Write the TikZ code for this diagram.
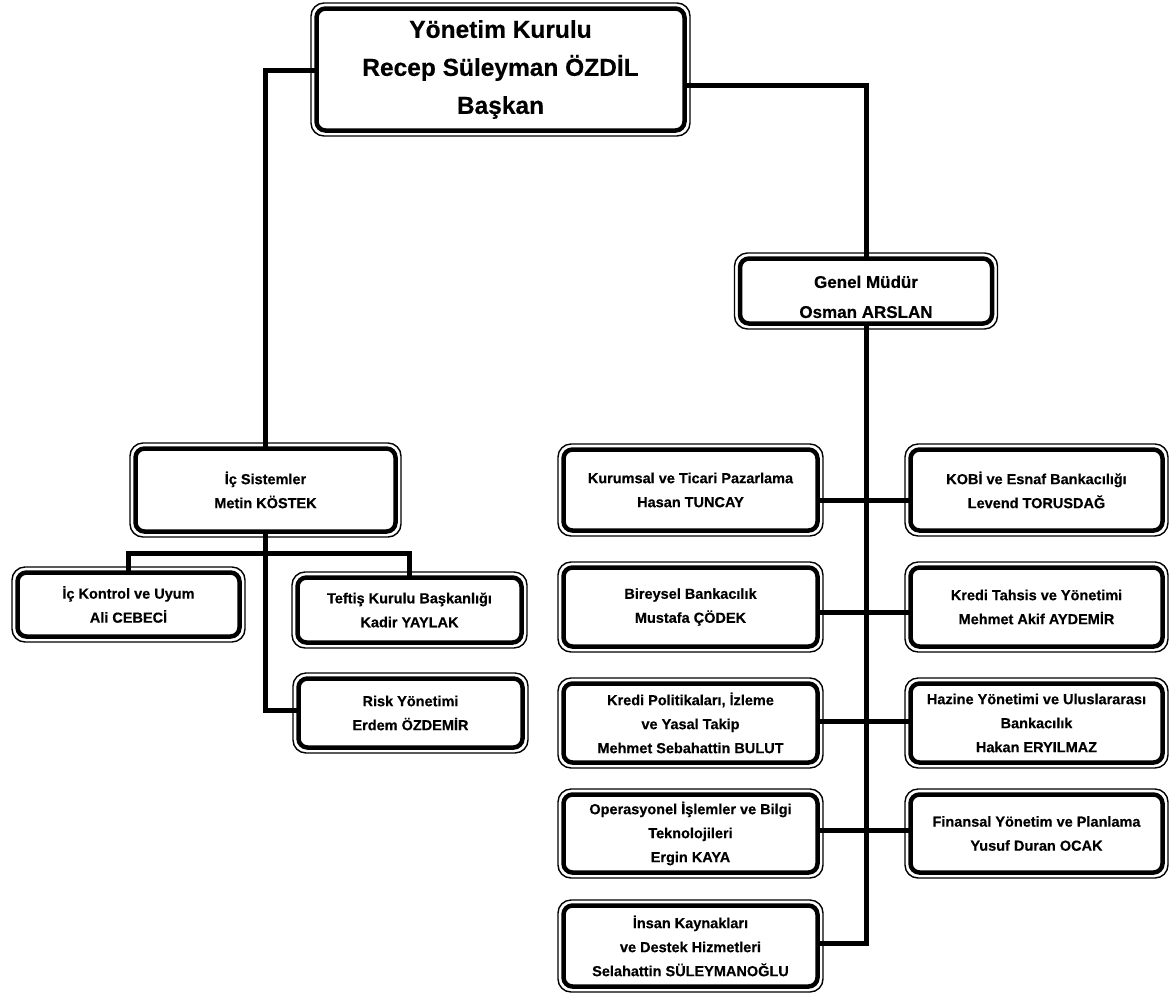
\documentclass[tikz,border=0pt]{standalone}
\usepackage{fontspec}
\setmainfont{Liberation Sans}[BoldFeatures={FakeBold=0.4}]
\usetikzlibrary{calc}
\pgfdeclarelayer{paper}
\pgfdeclarelayer{background}
\pgfsetlayers{paper,background,main}
\newcommand{\orgSmall}{\fontsize{14.5}{24}\selectfont\bfseries}
\newcommand{\orgMid}{\fontsize{17}{30}\selectfont\bfseries}
\newcommand{\orgBig}{\fontsize{24.5}{38}\selectfont\bfseries}
\begin{document}
\begin{tikzpicture}[x=1pt,y=-1pt,
  box/.style={draw, line width=4.5pt, rounded corners=9pt, fill=white, outer sep=0pt,
              inner sep=2pt, align=center, font=\orgSmall},
  conn/.style={line width=5pt},
  frame/.style={line width=1.4pt, rounded corners=13pt}]
\begin{pgfonlayer}{paper}
  \fill[white] (0,0) rectangle (1171,997);
\end{pgfonlayer}
\useasboundingbox (0,0) rectangle (1171,997);

% top and general manager
\node[box, font=\orgBig, minimum width=368pt, minimum height=122pt] (top) at (500.5,69.5)
  {Yönetim Kurulu\\Recep Süleyman ÖZDİL\\Başkan};
\node[box, font=\orgMid, minimum width=252pt, minimum height=65pt, text height=54pt] (gm) at (866,291)
  {Genel Müdür\\Osman ARSLAN};

% left subtree
\node[box, minimum width=260pt, minimum height=83pt] (ics) at (265.5,490)
  {İç Sistemler\\Metin KÖSTEK};
\node[box, minimum width=222pt, minimum height=64pt] (ick) at (128.5,604.5)
  {İç Kontrol ve Uyum\\Ali CEBECİ};
\node[box, minimum width=224pt, minimum height=65pt] (tef) at (409.5,610)
  {Teftiş Kurulu Başkanlığı\\Kadir YAYLAK};
\node[box, minimum width=224pt, minimum height=69pt] (risk) at (410.5,713)
  {Risk Yönetimi\\Erdem ÖZDEMİR};

% right subtree, left column
\node[box, minimum width=254pt, minimum height=81pt] (a1) at (690.5,490)
  {Kurumsal ve Ticari Pazarlama\\Hasan TUNCAY};
\node[box, minimum width=254pt, minimum height=79pt] (a2) at (690.5,607)
  {Bireysel Bankacılık\\Mustafa ÇÖDEK};
\node[box, minimum width=254pt, minimum height=79pt] (a3) at (690.5,723)
  {Kredi Politikaları, İzleme\\ve Yasal Takip\\Mehmet Sebahattin BULUT};
\node[box, minimum width=254pt, minimum height=78pt] (a4) at (690.5,833.5)
  {Operasyonel İşlemler ve Bilgi\\Teknolojileri\\Ergin KAYA};
\node[box, minimum width=254pt, minimum height=81pt] (a5) at (690.5,946)
  {İnsan Kaynakları\\ve Destek Hizmetleri\\Selahattin SÜLEYMANOĞLU};

% right subtree, right column
\node[box, minimum width=252pt, minimum height=81pt] (b1) at (1036.5,490)
  {KOBİ ve Esnaf Bankacılığı\\Levend TORUSDAĞ};
\node[box, minimum width=252pt, minimum height=79pt] (b2) at (1036.5,607)
  {Kredi Tahsis ve Yönetimi\\Mehmet Akif AYDEMİR};
\node[box, minimum width=252pt, minimum height=79pt] (b3) at (1036.5,723)
  {Hazine Yönetimi ve Uluslararası\\Bankacılık\\Hakan ERYILMAZ};
\node[box, minimum width=252pt, minimum height=78pt] (b4) at (1036.5,833.5)
  {Finansal Yönetim ve Planlama\\Yusuf Duran OCAK};

% thin outer frames
\foreach \n in {top,gm,ics,ick,tef,risk,a1,a2,a3,a4,a5,b1,b2,b3,b4}
  \draw[frame] ([xshift=-5.5pt,yshift=5.5pt]\n.north west) rectangle ([xshift=5.5pt,yshift=-5.5pt]\n.south east);

% connector bend points
\coordinate (L) at (265,70);
\coordinate (R) at (866,85);
\coordinate (B) at (265,553);
\coordinate (RK) at (265,710);
\coordinate (T1) at (866,500);
\coordinate (T2) at (866,612);
\coordinate (T3) at (866,721);
\coordinate (T4) at (866,830);
\coordinate (T5) at (866,943);

\begin{pgfonlayer}{background}
  \draw[conn] (top.center |- L) -- (L) -- (ics.center -| L);
  \draw[conn] (top.center |- R) -- (R) -- (gm.center -| R);
  \draw[conn] (ics.center -| B) -- (B) -- (RK) -- (risk.center |- RK);
  \draw[conn] (ick.center) -- (ick.center |- B) -- (tef.center |- B) -- (tef.center);
  \draw[conn] (gm.center) -- (T5) -- (a5.center |- T5);
  \draw[conn] (a1.center |- T1) -- (b1.center |- T1);
  \draw[conn] (a2.center |- T2) -- (b2.center |- T2);
  \draw[conn] (a3.center |- T3) -- (b3.center |- T3);
  \draw[conn] (a4.center |- T4) -- (b4.center |- T4);
\end{pgfonlayer}
\end{tikzpicture}
\end{document}
